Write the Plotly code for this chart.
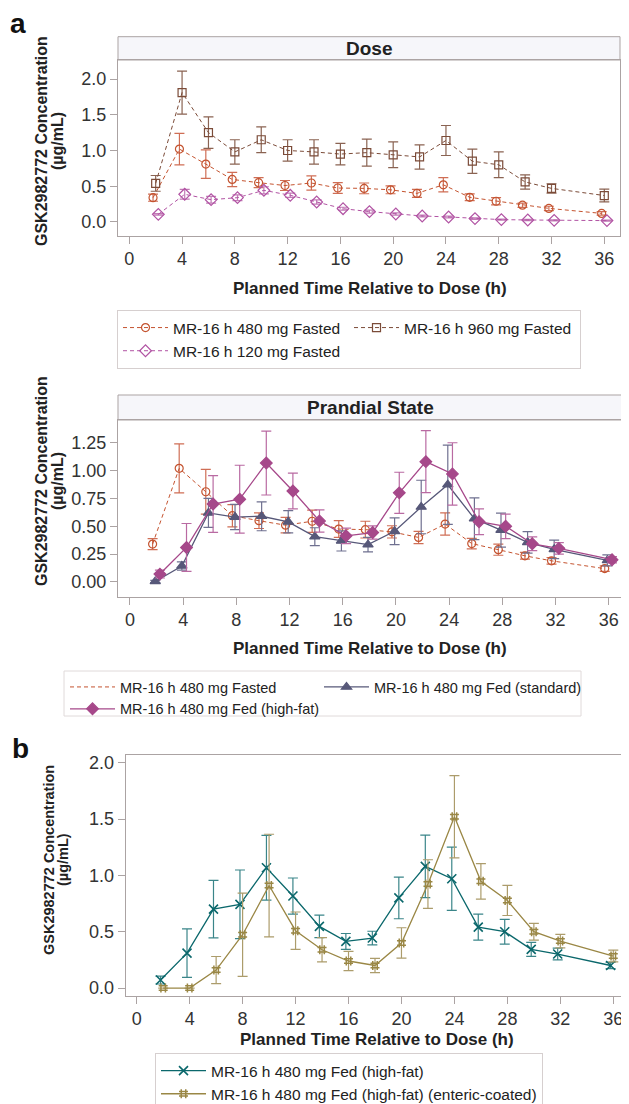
import plotly.graph_objects as go

W, H = 629, 1104          # browser window
OFF = 8                   # default body margin of the page
FW, FH = W - OFF, H - OFF  # figure spans window pixels 8..629 x 8..1104
FONT = "Liberation Sans, Arial, Helvetica, sans-serif"

# ---------------- data ----------------
time_h = [2, 4, 6, 8, 10, 12, 14, 16, 18, 20, 22, 24, 26, 28, 30, 32, 36]

fasted_480 = [0.34, 1.02, 0.81, 0.595, 0.55, 0.51, 0.545, 0.475, 0.47, 0.45, 0.40, 0.52, 0.345, 0.29, 0.235, 0.19, 0.12]
fasted_480_err = [0.05, 0.22, 0.20, 0.10, 0.07, 0.07, 0.10, 0.075, 0.075, 0.055, 0.055, 0.10, 0.047, 0.05, 0.03, 0.03, 0.025]

fasted_960 = [0.54, 1.81, 1.25, 0.98, 1.15, 1.0, 0.98, 0.95, 0.97, 0.94, 0.91, 1.14, 0.85, 0.80, 0.56, 0.47, 0.37]
fasted_960_err = [0.11, 0.30, 0.22, 0.17, 0.18, 0.15, 0.17, 0.15, 0.19, 0.18, 0.17, 0.21, 0.17, 0.18, 0.10, 0.065, 0.09]

fasted_120 = [0.107, 0.387, 0.312, 0.34, 0.443, 0.373, 0.28, 0.186, 0.145, 0.112, 0.084, 0.07, 0.047, 0.033, 0.028, 0.023, 0.019]
fasted_120_err = [0.01, 0.068, 0.047, 0.04, 0.05, 0.03, 0.03, 0.02, 0.02, 0.015, 0.012, 0.012, 0.01, 0.008, 0.008, 0.007, 0.006]

fed_highfat = [0.071, 0.31, 0.70, 0.743, 1.068, 0.817, 0.547, 0.414, 0.444, 0.80, 1.08, 0.97, 0.541, 0.50, 0.343, 0.302, 0.20]
fed_highfat_err = [0.035, 0.215, 0.255, 0.305, 0.287, 0.16, 0.10, 0.07, 0.06, 0.185, 0.278, 0.28, 0.116, 0.11, 0.062, 0.052, 0.028]

fed_standard = [0.005, 0.144, 0.62, 0.583, 0.59, 0.54, 0.407, 0.368, 0.335, 0.455, 0.673, 0.873, 0.568, 0.466, 0.356, 0.293, 0.194]
fed_standard_err = [0.01, 0.037, 0.13, 0.113, 0.13, 0.10, 0.08, 0.09, 0.065, 0.12, 0.24, 0.355, 0.187, 0.153, 0.096, 0.083, 0.05]

fed_enteric = [0.0, 0.0, 0.16, 0.473, 0.91, 0.509, 0.34, 0.24, 0.20, 0.40, 0.923, 1.52, 0.947, 0.778, 0.50, 0.417, 0.284]
fed_enteric_err = [0.0, 0.0, 0.12, 0.37, 0.455, 0.166, 0.107, 0.086, 0.063, 0.135, 0.216, 0.365, 0.158, 0.134, 0.074, 0.06, 0.052]

names = {
    "f480": "MR-16 h 480 mg Fasted",
    "f960": "MR-16 h 960 mg Fasted",
    "f120": "MR-16 h 120 mg Fasted",
    "std": "MR-16 h 480 mg Fed (standard)",
    "hf": "MR-16 h 480 mg Fed (high-fat)",
    "ec": "MR-16 h 480 mg Fed (high-fat) (enteric-coated)",
}
x_ticks = [0, 4, 8, 12, 16, 20, 24, 28, 32, 36]
y_ticks_a = [0.0, 0.5, 1.0, 1.5, 2.0]
y_ticks_p = [0.0, 0.25, 0.5, 0.75, 1.0, 1.25]
y_ticks_b = [0.0, 0.5, 1.0, 1.5, 2.0]

# ---------------- styles ----------------
C480, E480 = "#C4532F", "#CF6E55"
C960, E960 = "#7B4B38", "#8A6352"
C120, E120 = "#B153A3", "#C27AB6"
CHF, EHF = "#A6488A", "#B96AA2"
CSTD, ESTD = "#575879", "#6F7090"
CTEAL, ETEAL = "#0B686C", "#3A8589"
CENT, EENT = "#9A8745", "#AC9C6B"
AXC = "#ABA3A3"
DASH = "4px,3px"

# cluster offsets (display only)
off_a = {"f480": -0.2, "f960": 0.0, "f120": 0.2}
off_p = {"f480": -0.3, "std": -0.1, "hf": 0.25}
off_b = {"hf": -0.2, "ec": 0.0}


def shift(vals, d):
    return [v + d for v in vals]


def px(xpix):
    return (xpix - OFF) / FW


def py(ypix):
    return 1 - (ypix - OFF) / FH


fig = go.Figure()


def add(xa, ya, key, x, y, err, color, ecolor, symbol, size, dash, legend,
        showlegend=True, lw=1.0, mlw=1.2):
    marker = dict(symbol=symbol, size=size, color=color,
                  line=dict(color=color, width=mlw))
    fig.add_trace(go.Scatter(
        x=x, y=y, mode="lines+markers", name=names[key],
        xaxis=xa, yaxis=ya, legend=legend, showlegend=showlegend,
        line=dict(color=color, width=lw, dash=dash),
        marker=marker,
        error_y=dict(type="data", array=err, visible=True, color=ecolor,
                     thickness=1.2, width=5),
    ))


# Panel a (Dose)
add("x", "y", "f480", shift(time_h, off_a["f480"]), fasted_480, fasted_480_err, C480, E480,
    "circle-open", 8, DASH, "legend")
add("x", "y", "f960", shift(time_h, off_a["f960"]), fasted_960, fasted_960_err, C960, E960,
    "square-open", 8, DASH, "legend")
add("x", "y", "f120", shift(time_h, off_a["f120"]), fasted_120, fasted_120_err, C120, E120,
    "diamond-open", 9, DASH, "legend")

# Panel a (Prandial State)
add("x2", "y2", "f480", shift(time_h, off_p["f480"]), fasted_480, fasted_480_err, C480, E480,
    "circle-open", 8, DASH, "legend2", showlegend=False)
fig.add_trace(go.Scatter(x=[None], y=[None], mode="lines", name=names["f480"],
                         xaxis="x2", yaxis="y2", legend="legend2",
                         line=dict(color=C480, width=1.0, dash=DASH)))
add("x2", "y2", "std", shift(time_h, off_p["std"]), fed_standard, fed_standard_err, CSTD, ESTD,
    "triangle-up", 9, "solid", "legend4", lw=1.3)
add("x2", "y2", "hf", shift(time_h, off_p["hf"]), fed_highfat, fed_highfat_err, CHF, EHF,
    "diamond", 9, "solid", "legend2", lw=1.3)

# Panel b
add("x3", "y3", "hf", shift(time_h, off_b["hf"]), fed_highfat, fed_highfat_err, CTEAL, ETEAL,
    "x-thin", 9, "solid", "legend3", lw=1.3, mlw=1.6)
add("x3", "y3", "ec", shift(time_h, off_b["ec"]), fed_enteric, fed_enteric_err, CENT, EENT,
    "hash", 9, "solid", "legend3", lw=1.3, mlw=1.5)

tickfont = dict(family=FONT, size=18, color="#333333")


def xaxis(dom, rng, anchor):
    return dict(domain=dom, range=rng, anchor=anchor, tickvals=x_ticks,
                showline=True, linecolor=AXC, linewidth=1, mirror=True,
                ticks="outside", ticklen=7, tickcolor=AXC, showgrid=False,
                zeroline=False, tickfont=tickfont)


def yaxis(dom, rng, anchor, tv, fmt):
    return dict(domain=dom, range=rng, anchor=anchor, tickvals=tv, tickformat=fmt,
                showline=True, linecolor=AXC, linewidth=1, mirror=True,
                ticks="outside", ticklen=7, tickcolor=AXC, showgrid=False,
                zeroline=False, tickfont=tickfont)


# plot areas in window pixels
A = dict(l=118, r=620, t=60, b=235.7)
P = dict(l=118, r=622, t=420, b=596.7)
B = dict(l=125.7, r=626, t=755.3, b=995.7)

legfont = dict(family=FONT, size=15.5, color="#222222")
legfont2 = dict(family=FONT, size=14.5, color="#222222")

fig.update_layout(
    width=FW, height=FH, margin=dict(l=0, r=0, t=0, b=0, autoexpand=False),
    paper_bgcolor="white", plot_bgcolor="white",
    font=dict(family=FONT, color="#222222"),
    xaxis=xaxis([px(A["l"]), px(A["r"])], [-0.856, 37.19], "y"),
    yaxis=yaxis([py(A["b"]), py(A["t"])], [-0.192, 2.266], "x", y_ticks_a, ".1f"),
    xaxis2=xaxis([px(P["l"]), px(P["r"])], [-0.902, 37.0], "y2"),
    yaxis2=yaxis([py(P["b"]), py(P["t"])], [-0.132, 1.454], "x2", y_ticks_p, ".2f"),
    xaxis3=xaxis([px(B["l"]), px(B["r"])], [-0.831, 36.96], "y3"),
    yaxis3=yaxis([py(B["b"]), py(B["t"])], [-0.068, 2.066], "x3", y_ticks_b, ".1f"),
    legend=dict(x=px(117), y=py(310), xanchor="left", yanchor="top", orientation="h",
                entrywidth=171, entrywidthmode="pixels", itemwidth=45,
                bordercolor="#D6CFCF", borderwidth=1, font=legfont, bgcolor="white"),
    legend2=dict(x=px(65), y=py(671), xanchor="left", yanchor="top", orientation="v",
                 itemwidth=45, borderwidth=0, font=legfont2, bgcolor="rgba(0,0,0,0)"),
    legend4=dict(x=px(319), y=py(671), xanchor="left", yanchor="top", orientation="v",
                 itemwidth=45, borderwidth=0, font=legfont2, bgcolor="rgba(0,0,0,0)"),
    legend3=dict(x=px(155), y=py(1053), xanchor="left", yanchor="top", orientation="v",
                 itemwidth=45, bordercolor="#D6CFCF", borderwidth=1, font=legfont,
                 bgcolor="white"),
)

# frame around the prandial-state legend (made of two legend columns)
fig.add_shape(type="rect", xref="paper", yref="paper",
              x0=px(64), x1=px(581), y0=py(716), y1=py(671),
              line=dict(color="#E0DADA", width=1), fillcolor="rgba(0,0,0,0)")

# strips
for box, label, top in ((A, "Dose", 36.7), (P, "Prandial State", 395)):
    fig.add_shape(type="rect", xref="paper", yref="paper",
                  x0=px(box["l"]), x1=px(box["r"]), y0=py(box["t"]), y1=py(top),
                  fillcolor="#F6F6FA", line=dict(color=AXC, width=1), layer="below")
    fig.add_annotation(text="<b>%s</b>" % label, xref="paper", yref="paper",
                       x=px((box["l"] + box["r"]) / 2), y=py((top + box["t"]) / 2),
                       xanchor="center", yanchor="middle", showarrow=False,
                       font=dict(family=FONT, size=19, color="#222222"))

# x-axis titles
for ypix, xc in ((288, 370), (648, 370), (1039, 377)):
    fig.add_annotation(text="<b>Planned Time Relative to Dose (h)</b>", xref="paper", yref="paper",
                       x=px(xc), y=py(ypix), xanchor="center", yanchor="middle", showarrow=False,
                       font=dict(family=FONT, size=17, color="#222222"))

# y-axis titles
for (x1, x2, yc, fs) in ((41, 57, 141, 16), (41, 57, 481, 16), (49, 63, 860, 14.5)):
    fig.add_annotation(text="<b>GSK2982772 Concentration</b>", xref="paper", yref="paper",
                       x=px(x1), y=py(yc), xanchor="center", yanchor="middle", textangle=-90,
                       showarrow=False, font=dict(family=FONT, size=fs, color="#222222"))
    fig.add_annotation(text="<b>(µg/mL)</b>", xref="paper", yref="paper",
                       x=px(x2), y=py(yc), xanchor="center", yanchor="middle", textangle=-90,
                       showarrow=False, font=dict(family=FONT, size=fs, color="#222222"))

# panel letters
for lab, xx, yy in (("a", 18, 24), ("b", 20, 748)):
    fig.add_annotation(text="<b>%s</b>" % lab, xref="paper", yref="paper", x=px(xx), y=py(yy),
                       xanchor="center", yanchor="middle", showarrow=False,
                       font=dict(family=FONT, size=28, color="#111111"))

fig.write_html("out.html")
